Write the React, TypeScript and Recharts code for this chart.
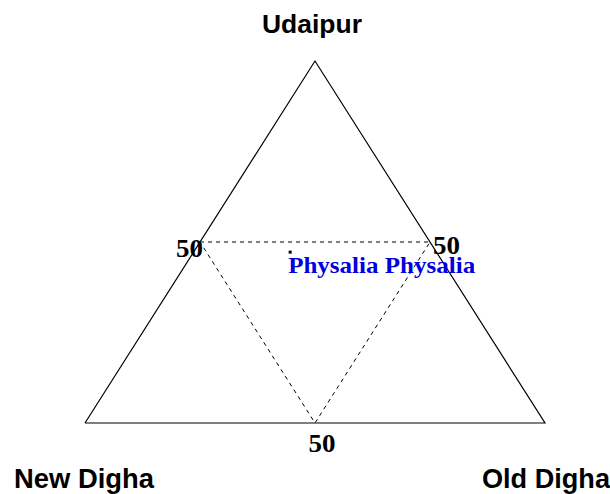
import React from 'react';
import { ScatterChart, Scatter, XAxis, YAxis } from 'recharts';

// Corners of the ternary diagram: composition (Udaipur, New Digha, Old Digha)
const cornerNames = ['Udaipur', 'New Digha', 'Old Digha'];
const cornerUdaipur = [100, 0, 0];
const cornerNewDigha = [0, 100, 0];
const cornerOldDigha = [0, 0, 100];

// 50% grid points on each edge
const gridLabels = ['50', '50', '50'];
const gridUdaipur = [50, 50, 0];
const gridNewDigha = [50, 0, 50];
const gridOldDigha = [0, 50, 50];

// Species composition
const speciesNames = ['Physalia Physalia'];
const speciesUdaipur = [47.2];
const speciesNewDigha = [31.8];
const speciesOldDigha = [21.0];

const toXY = (u: number, n: number, o: number) => {
  const t = u + n + o;
  return { x: (o + u / 2) / t, y: u / t };
};

const corners = cornerNames.map((name, i) => ({
  name,
  idx: i,
  ...toXY(cornerUdaipur[i], cornerNewDigha[i], cornerOldDigha[i]),
}));
// outline: New Digha -> Old Digha -> Udaipur -> New Digha
const outline = [corners[1], corners[2], corners[0], corners[1]];

const grid = gridLabels.map((name, i) => ({
  name,
  idx: i,
  ...toXY(gridUdaipur[i], gridNewDigha[i], gridOldDigha[i]),
}));
const gridLoop = [grid[0], grid[1], grid[2], grid[0]];

const species = speciesNames.map((name, i) => ({
  name,
  ...toXY(speciesUdaipur[i], speciesNewDigha[i], speciesOldDigha[i]),
}));

const cornerStyle = [
  { dx: -3, dy: -28, size: 26, len: 100 },
  { dx: -1, dy: 65, size: 27, len: 140 },
  { dx: 1, dy: 65, size: 27, len: 128 },
];
const gridStyle: { dx: number; dy: number; anchor: 'end' | 'start' | 'middle' }[] = [
  { dx: 3, dy: 15, anchor: 'end' },
  { dx: 3, dy: 12, anchor: 'start' },
  { dx: 7, dy: 29, anchor: 'middle' },
];

const Nothing = () => <g />;

const CornerLabel = (props: any) => {
  const { cx, cy, payload } = props;
  const s = cornerStyle[payload.idx];
  return (
    <text
      x={cx + s.dx}
      y={cy + s.dy}
      textAnchor="middle"
      fontFamily="'Liberation Sans', Arial, sans-serif"
      fontWeight="bold"
      fontSize={s.size}
      textLength={s.len}
      lengthAdjust="spacingAndGlyphs"
      fill="#000"
    >
      {payload.name}
    </text>
  );
};

const GridLabel = (props: any) => {
  const { cx, cy, payload } = props;
  const s = gridStyle[payload.idx];
  return (
    <text
      x={cx + s.dx}
      y={cy + s.dy}
      textAnchor={s.anchor}
      fontFamily="'Liberation Serif', 'Times New Roman', serif"
      fontWeight="bold"
      fontSize={26}
      textLength={27}
      lengthAdjust="spacingAndGlyphs"
      fill="#000"
    >
      {payload.name}
    </text>
  );
};

const SpeciesPoint = (props: any) => {
  const { cx, cy, payload } = props;
  return (
    <g>
      <rect x={cx - 1.5} y={cy - 1.5} width={3} height={3} fill="#000" />
      <text
        x={cx - 2}
        y={cy + 21}
        textAnchor="start"
        fontFamily="'Liberation Serif', 'Times New Roman', serif"
        fontWeight="bold"
        fontSize={24}
        textLength={187}
        lengthAdjust="spacingAndGlyphs"
        fill="#0000e0"
      >
        {payload.name}
      </text>
    </g>
  );
};

export default function App() {
  return (
    <div style={{ position: 'absolute', left: 0, top: 0, background: '#fff' }}>
      <ScatterChart
        width={610}
        height={494}
        margin={{ top: 61, right: 65, bottom: 71, left: 85 }}
      >
        <XAxis type="number" dataKey="x" domain={[0, 1]} hide />
        <YAxis type="number" dataKey="y" domain={[0, 1]} hide />
        <Scatter
          data={outline}
          line={{ stroke: '#000', strokeWidth: 1.2 }}
          shape={Nothing}
          isAnimationActive={false}
        />
        <Scatter
          data={gridLoop}
          line={{ stroke: '#000', strokeWidth: 1, strokeDasharray: '4 4' }}
          shape={Nothing}
          isAnimationActive={false}
        />
        <Scatter data={corners} shape={CornerLabel} isAnimationActive={false} />
        <Scatter data={grid} shape={GridLabel} isAnimationActive={false} />
        <Scatter data={species} shape={SpeciesPoint} isAnimationActive={false} />
      </ScatterChart>
    </div>
  );
}
